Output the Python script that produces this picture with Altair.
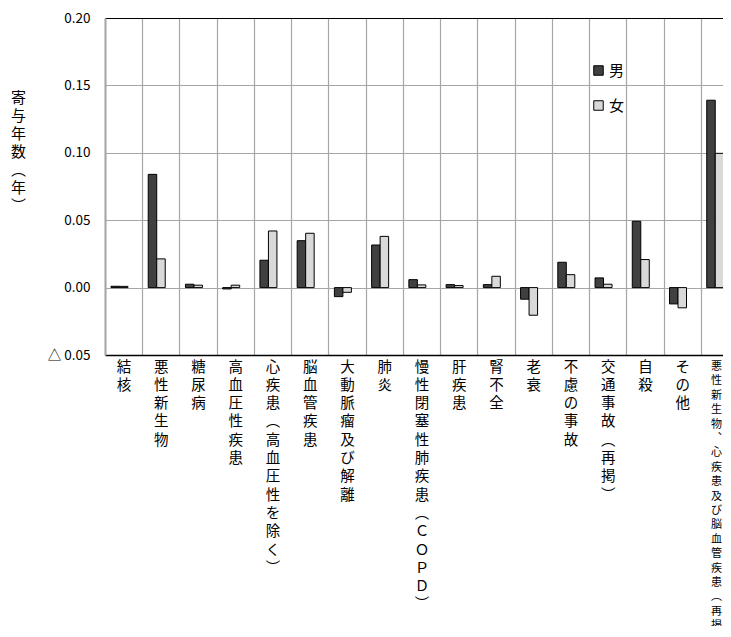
import altair as alt
import pandas as pd

categories = [
    "結核", "悪性新生物", "糖尿病", "高血圧性疾患", "心疾患（高血圧性を除く）",
    "脳血管疾患", "大動脈瘤及び解離", "肺炎", "慢性閉塞性肺疾患（ＣＯＰＤ）",
    "肝疾患", "腎不全", "老衰", "不慮の事故", "交通事故（再掲）", "自殺", "その他",
    "悪性新生物、心疾患及び脳血管疾患（再掲）",
]
male = [0.0010, 0.0840, 0.0025, -0.0010, 0.0203, 0.0348, -0.0067, 0.0316, 0.0059,
        0.0022, 0.0022, -0.0086, 0.0188, 0.0072, 0.0492, -0.0121, 0.1390]
female = [0.0009, 0.0213, 0.0018, 0.0018, 0.0420, 0.0403, -0.0035, 0.0380, 0.0020,
          0.0015, 0.0084, -0.0205, 0.0096, 0.0025, 0.0208, -0.0150, 0.0996]
sexes = ["男", "女"]
sex_colors = ["#404040", "#d9d9d9"]
y_ticks = [-0.05, 0.0, 0.05, 0.10, 0.15, 0.20]
y_title = ["寄", "与", "年", "数", "︵", "年", "︶"]

rows = []
for c, m, f in zip(categories, male, female):
    rows.append({"cause": c, "sex": sexes[0], "value": m})
    rows.append({"cause": c, "sex": sexes[1], "value": f})
df = pd.DataFrame(rows)

BAND_SPAN = 633      # full width of the 17 category bands (runs past the window edge)
W = 618              # visible plot width
H = 337
FONT = "Noto Sans CJK JP"
GRID = "#a6a6a6"
last = categories[-1]

vert_expr = ("split(replace(replace(replace({s},'（','︵'),'）','︶'),'、','︑'),'')")
label_expr = f"datum.label == '{last}' ? '' : " + vert_expr.format(s="datum.label")

x_scale = alt.Scale(domain=categories, range=[0, BAND_SPAN], paddingInner=0, paddingOuter=0)
y_scale = alt.Scale(domain=[y_ticks[0], y_ticks[-1]], nice=False, zero=False)

x_axis = alt.Axis(
    title=None, labelAngle=0, labelFont=FONT, labelFontSize=14.5, labelLineHeight=18.3,
    labelExpr=label_expr, labelBaseline="top", labelAlign="center", labelPadding=5,
    labelOverlap=False, labelColor="black", ticks=False, domainColor="black",
    domainWidth=1.5, grid=True, gridColor=GRID, gridWidth=1.2, tickBand="extent",
    labelBound=False, labelFlush=False,
)
y_axis = alt.Axis(
    values=y_ticks,
    labelExpr="datum.value < 0 ? '△ ' + format(-datum.value, '.2f') : format(datum.value, '.2f')",
    labelFont=FONT, labelFontSize=13.5, labelColor="black", labelPadding=15,
    ticks=False, domainColor=GRID, domainWidth=2,
    grid=True, gridWidth=1.2,
    gridColor={"condition": {"test": "datum.value >= 0.2", "value": "black"}, "value": GRID},
    title=y_title, titleAngle=0, titleX=-87, titleY=72, titleAlign="center",
    titleBaseline="top", titleFont=FONT, titleFontSize=15, titleFontWeight="normal",
    titleLineHeight=18, titleColor="black",
)

bars = alt.Chart(df).mark_bar(stroke="black", strokeWidth=1).encode(
    x=alt.X("cause:N", scale=x_scale, sort=categories, axis=x_axis),
    xOffset=alt.XOffset("sex:N", sort=sexes,
                        scale=alt.Scale(domain=sexes + ["_"], paddingInner=0,
                                        paddingOuter=0.69, align=0.51)),
    y=alt.Y("value:Q", scale=y_scale, axis=y_axis),
    color=alt.Color("sex:N", sort=sexes, scale=alt.Scale(domain=sexes, range=sex_colors),
                    legend=alt.Legend(orient="none", legendX=486, legendY=45, title=None,
                                      symbolType="square", symbolSize=90,
                                      symbolStrokeColor="black", symbolStrokeWidth=1,
                                      labelFont=FONT, labelFontSize=15, labelColor="black",
                                      rowPadding=19, labelOffset=3, padding=0)),
)

lab_df = pd.DataFrame({"cause": [last]})
last_label = alt.Chart(lab_df).transform_calculate(
    lines=vert_expr.format(s="datum.cause")
).mark_text(font=FONT, fontSize=11, lineHeight=14.4, baseline="top", align="center",
            color="black", dx=-3).encode(
    x=alt.X("cause:N", scale=x_scale, sort=categories, axis=x_axis),
    y=alt.value(H + 6),
    text="lines:N",
)

chart = alt.layer(bars, last_label).properties(
    width=W, height=H,
    autosize=alt.AutoSizeParams(type="none"),
    padding={"left": 97, "top": 10, "right": 0, "bottom": 271},
).configure_view(stroke="transparent")

chart.save("out.html", embed_options={"renderer": "svg", "actions": False})
